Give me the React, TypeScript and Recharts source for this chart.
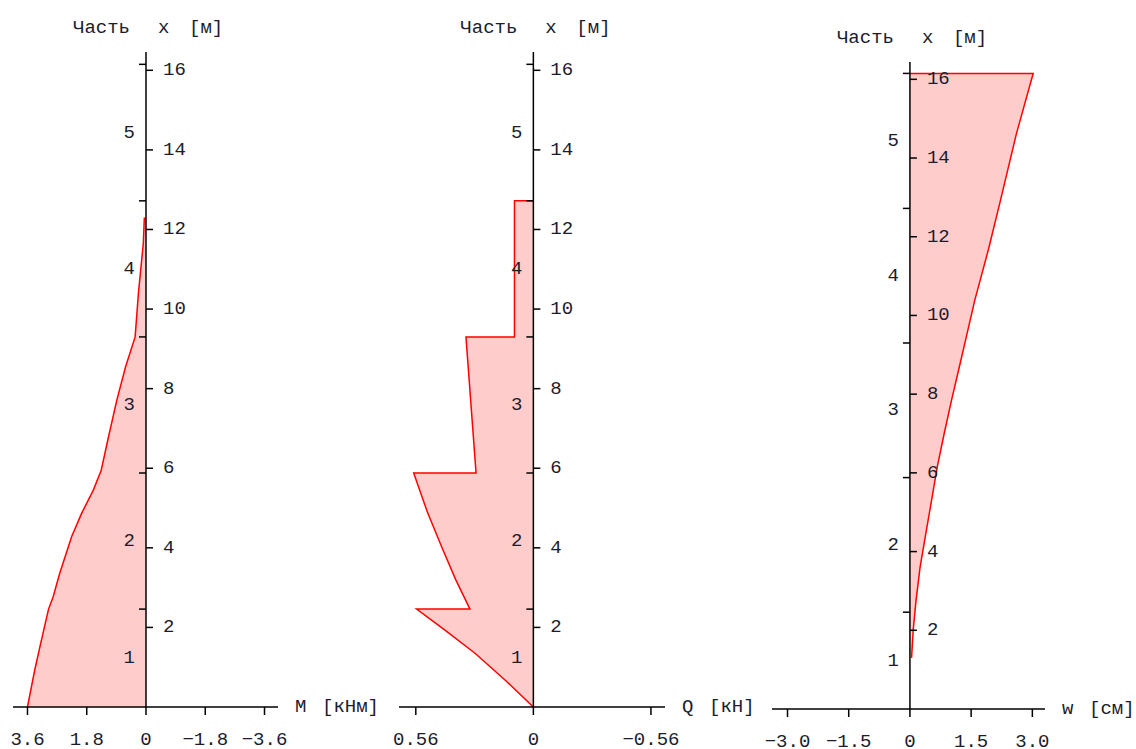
import React from 'react';
import { AreaChart, Area, XAxis, YAxis, ReferenceLine, ReferenceDot } from 'recharts';

const FONT = "'Liberation Mono', 'Courier New', monospace";
const INK = '#1c1c2c';
const FS = 19;

// beam sections along x [м]
const sectionBounds = [2.46, 5.88, 9.3, 12.72, 16.15];
const sectionMids = [1.23, 4.17, 7.59, 11.01, 14.43];
const sectionNames = ['1', '2', '3', '4', '5'];
const lengthTicks = [2, 4, 6, 8, 10, 12, 14, 16];

// bending moment M [кНм]
const mX = [0, 0.93, 1.85, 2.46, 2.77, 3.36, 4.28, 4.86, 5.45, 5.95, 6.71, 7.7, 8.55, 9.3, 10.4, 11.66, 12.3];
const mValues = [3.6, 3.38, 3.13, 2.96, 2.82, 2.62, 2.26, 1.96, 1.6, 1.36, 1.16, 0.89, 0.62, 0.33, 0.23, 0.08, 0.05];
const mTicks = [3.6, 1.8, 0, -1.8, -3.6];

// shear force Q [кН]
const qX = [0, 0.68, 1.35, 1.93, 2.46, 2.46, 3.2, 4.0, 4.9, 5.88, 5.88, 9.3, 9.3, 12.72, 12.72];
const qValues = [0, 0.135, 0.278, 0.421, 0.556, 0.302, 0.37, 0.435, 0.505, 0.57, 0.273, 0.321, 0.09, 0.09, 0];
const qTicks = [0.56, 0, -0.56];

// deflection w [см]
const wX = [1.3, 2.0, 2.76, 3.61, 4.46, 5.3, 6.15, 7.0, 7.85, 8.69, 9.54, 10.39, 11.7, 12.93, 14.62, 16.15, 16.15];
const wValues = [0.04, 0.08, 0.15, 0.25, 0.39, 0.53, 0.67, 0.84, 1.02, 1.21, 1.4, 1.59, 1.93, 2.22, 2.61, 3.02, 0];
const wTicks = [-3.0, -1.5, 0, 1.5, 3.0];

const fmt = (v: number, digits: number) => (v === 0 ? '0' : v.toFixed(digits).replace('-', '\u2212'));

type PanelProps = {
  left: number;
  width: number;
  margin: { top: number; right: number; bottom: number; left: number };
  xs: number[];
  vs: number[];
  domain: [number, number];
  top: number;
  reversed: boolean;
  ticks: number[];
  digits: number;
  symbol: string;
  unit: string;
};

const txt = { fill: INK, fontSize: FS, fontFamily: FONT };

function Panel(p: PanelProps) {
  const data = p.xs.map((x, i) => ({ x, v: p.vs[i] }));
  return (
    <div style={{ position: 'absolute', left: p.left, top: 0 }}>
      <AreaChart width={p.width} height={749} data={data} layout="vertical" margin={p.margin}>
        <XAxis
          type="number"
          domain={p.domain}
          reversed={p.reversed}
          ticks={p.ticks}
          interval={0}
          allowDataOverflow
          tickFormatter={(v: number) => fmt(v, p.digits)}
          axisLine={{ stroke: '#000', strokeWidth: 1.5 }}
          tickLine={{ stroke: '#000', strokeWidth: 1.5 }}
          tick={txt}
          tickSize={8}
          tickMargin={17}
          height={40}
          label={{
            content: (lp: any) => {
              const vb = lp.viewBox;
              return (
                <g>
                  <text x={vb.x + vb.width + 17} y={vb.y} dominantBaseline="central" {...txt}>{p.symbol}</text>
                  <text x={vb.x + vb.width + 44} y={vb.y} dominantBaseline="central" {...txt}>{p.unit}</text>
                </g>
              );
            },
          }}
        />
        <YAxis type="number" dataKey="x" domain={[0, p.top]} reversed hide allowDataOverflow />
        <Area
          type="linear"
          dataKey="v"
          stroke="#ff0000"
          strokeWidth={1.5}
          fill="#ffcccc"
          fillOpacity={1}
          dot={false}
          activeDot={false}
          isAnimationActive={false}
        />
        <ReferenceLine x={0} stroke="#000" strokeWidth={1.5} />
        <ReferenceDot
          x={0}
          y={p.top}
          r={0}
          shape={(s: any) => (
            <g>
              <text x={s.cx - 73} y={s.cy - 24} dominantBaseline="central" {...txt}>Часть</text>
              <text x={s.cx + 12} y={s.cy - 24} dominantBaseline="central" {...txt}>x</text>
              <text x={s.cx + 43} y={s.cy - 24} dominantBaseline="central" {...txt}>[м]</text>
            </g>
          )}
        />
        {lengthTicks.map((t) => (
          <ReferenceDot
            key={'t' + t}
            x={0}
            y={t}
            r={0}
            shape={(s: any) => (
              <g>
                <line x1={s.cx} y1={s.cy} x2={s.cx + 7} y2={s.cy} stroke="#000" strokeWidth={1.5} />
                <text x={s.cx + 17} y={s.cy} dominantBaseline="central" {...txt}>{t}</text>
              </g>
            )}
          />
        ))}
        {sectionBounds.map((b) => (
          <ReferenceDot
            key={'b' + b}
            x={0}
            y={b}
            r={0}
            shape={(s: any) => <line x1={s.cx - 7} y1={s.cy} x2={s.cx} y2={s.cy} stroke="#000" strokeWidth={1.5} />}
          />
        ))}
        {sectionMids.map((m, i) => (
          <ReferenceDot
            key={'s' + i}
            x={0}
            y={m}
            r={0}
            shape={(s: any) => (
              <text x={s.cx - 11} y={s.cy} textAnchor="end" dominantBaseline="central" {...txt}>
                {sectionNames[i]}
              </text>
            )}
          />
        ))}
      </AreaChart>
    </div>
  );
}

export default function App() {
  return (
    <div style={{ position: 'absolute', left: 0, top: 0, width: 1136, height: 749, background: '#fff' }}>
      <Panel
        left={0}
        width={380}
        margin={{ top: 52, right: 102, bottom: 2, left: 13 }}
        xs={mX}
        vs={mValues}
        domain={[-4.01, 4.04]}
        top={16.46}
        reversed
        ticks={mTicks}
        digits={1}
        symbol="M"
        unit="[кНм]"
      />
      <Panel
        left={380}
        width={380}
        margin={{ top: 52, right: 95, bottom: 2, left: 19 }}
        xs={qX}
        vs={qValues}
        domain={[-0.627, 0.64]}
        top={16.46}
        reversed
        ticks={qTicks}
        digits={2}
        symbol="Q"
        unit="[кН]"
      />
      <Panel
        left={760}
        width={376}
        margin={{ top: 62, right: 91, bottom: 0, left: 12 }}
        xs={wX}
        vs={wValues}
        domain={[-3.38, 3.31]}
        top={16.44}
        reversed={false}
        ticks={wTicks}
        digits={1}
        symbol="w"
        unit="[см]"
      />
    </div>
  );
}
